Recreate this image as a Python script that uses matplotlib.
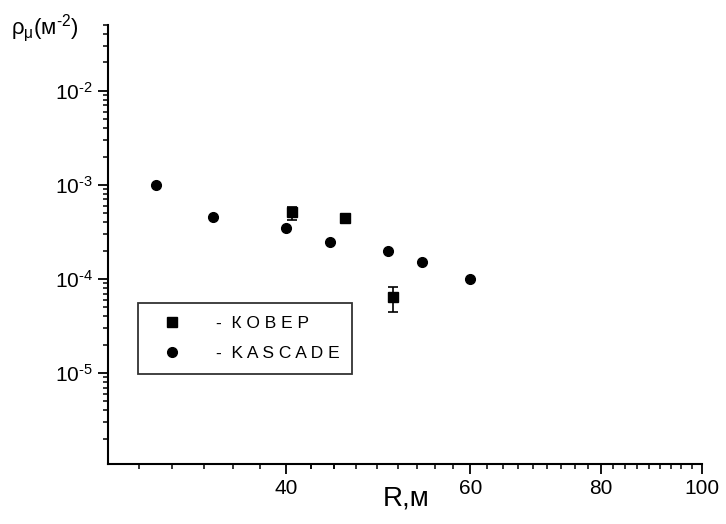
import numpy as np
import matplotlib
matplotlib.use('Agg')
import matplotlib.pyplot as plt
from matplotlib.ticker import FixedLocator, FixedFormatter, NullFormatter, LogLocator

plt.rcParams['font.family'] = ['Liberation Sans', 'DejaVu Sans']
plt.rcParams['mathtext.fontset'] = 'custom'
plt.rcParams['mathtext.rm'] = 'Liberation Sans'
plt.rcParams['mathtext.it'] = 'Liberation Sans'
plt.rcParams['axes.unicode_minus'] = False

## data
kascade_r = [30, 34, 40, 44, 50, 54, 60]
kascade_rho = [1.0e-3, 4.5e-4, 3.5e-4, 2.5e-4, 2.0e-4, 1.5e-4, 1.0e-4]

kover_r = [40.5, 45.5, 50.6]
kover_rho = [5.2e-4, 4.4e-4, 6.5e-5]
kover_err_lo = [0.95e-4, 0.0, 2.0e-5]
kover_err_hi = [0.6e-4, 0.0, 1.7e-5]

x_ticks = [40, 60, 80, 100]
y_ticks = [1e-5, 1e-4, 1e-3, 1e-2]
y_labels = [r'$10^{\text{-5}}$', r'$10^{\text{-4}}$', r'$10^{\text{-3}}$', r'$10^{\text{-2}}$']

fig = plt.figure(figsize=(7.26, 5.24), dpi=100)
ax = fig.add_axes([108 / 726, 1 - 464 / 524, 594 / 726, 439 / 524])

ax.errorbar(kover_r, kover_rho, yerr=[kover_err_lo, kover_err_hi], fmt='none', ecolor='black',
            capsize=3.5, elinewidth=1.2, capthick=1.2)
h1, = ax.plot(kover_r, kover_rho, 's', color='black', ms=6.5)
h2, = ax.plot(kascade_r, kascade_rho, 'o', color='black', ms=7)

ax.set_xscale('log')
ax.set_yscale('log')
ax.set_xlim(27, 100)
ax.set_ylim(1.08e-6, 5e-2)

# x ticks: minor ticks split each 20-wide interval in 9
minor_x = []
for start in [40 - 20 * 6 / 9, 40, 60, 80]:
    minor_x += list(start + np.arange(1, 9) * 20 / 9)
minor_x = [v for v in minor_x if 27 < v < 100]
ax.xaxis.set_major_locator(FixedLocator(x_ticks))
ax.xaxis.set_major_formatter(FixedFormatter([str(v) for v in x_ticks]))
ax.xaxis.set_minor_locator(FixedLocator(minor_x))
ax.xaxis.set_minor_formatter(NullFormatter())

ax.yaxis.set_major_locator(FixedLocator(y_ticks))
ax.yaxis.set_major_formatter(FixedFormatter(y_labels))
ax.yaxis.set_minor_locator(LogLocator(base=10, subs=np.arange(2, 10)))
ax.yaxis.set_minor_formatter(NullFormatter())

ax.spines['top'].set_visible(False)
ax.spines['right'].set_visible(False)
for s in ['left', 'bottom']:
    ax.spines[s].set_linewidth(1.5)
ax.tick_params(which='major', direction='out', length=7, width=1.3, labelsize=15, pad=4)
ax.tick_params(which='minor', direction='out', length=3.5, width=1.1)

fig.text(0.015, 0.935, 'ρ$_{μ}$(м$^{\\text{-2}}$)', fontsize=16)
fig.text(0.56, 0.035, 'R,м', fontsize=20, ha='center')

leg = ax.legend([h1, h2], ['-  К О В Е Р', '-  K A S C A D E'], loc='upper left',
                bbox_to_anchor=(0.051, 0.366), borderaxespad=0, fontsize=12.5,
                frameon=True, fancybox=False, edgecolor='black', handletextpad=1.3,
                borderpad=0.75, labelspacing=0.85, handlelength=2.4, numpoints=1)
leg.get_frame().set_linewidth(1.3)

fig.savefig('out.png', dpi=100)
